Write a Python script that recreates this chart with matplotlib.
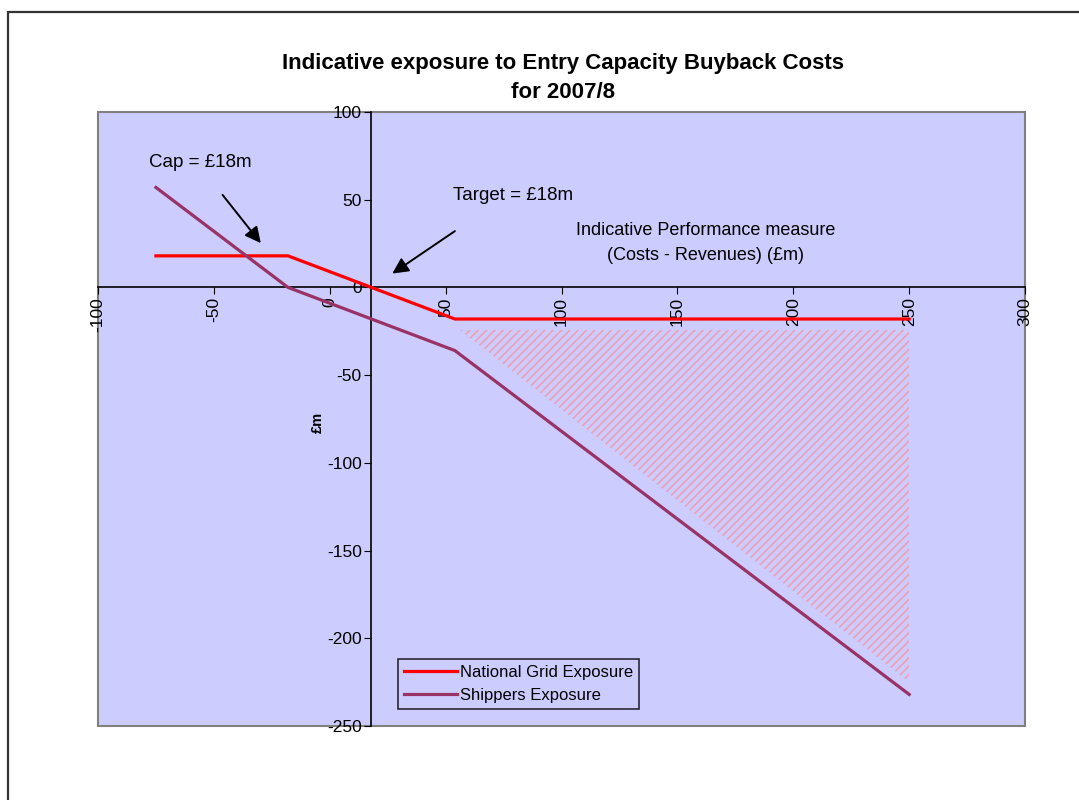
import matplotlib
matplotlib.use("Agg")
import matplotlib.pyplot as plt
from matplotlib.patches import Rectangle

plt.rcParams['font.family'] = ['Liberation Sans', 'DejaVu Sans']
plt.rcParams['hatch.linewidth'] = 1.25
plt.rcParams['axes.unicode_minus'] = False

# Performance measure (Costs - Revenues) in £m and the resulting exposures
perf_x = [-75, -18, 54, 250]
ng_exposure = [18, 18, -18, -18]
shippers_exposure = [57, 0, -36, -232]

# shaded triangle between the two exposures
hatch_x = [56, 250, 250]
hatch_y = [-24, -24, -225]

x_ticks = [-100, -50, 0, 50, 100, 150, 200, 250, 300]
y_ticks = [100, 50, 0, -50, -100, -150, -200, -250]


def main():
    fig = plt.figure(figsize=(10.79, 8.0), dpi=100)
    ax = fig.add_axes([0.0908, 0.0925, 0.8592, 0.7675])
    ax.set_facecolor('#ccccff')

    # outer chart border (runs off the right and bottom of the picture)
    fig.patches.append(Rectangle((8 / 1079, -0.05), 1.1, 1 - 12 / 800 + 0.05,
                                 transform=fig.transFigure, fill=False,
                                 edgecolor='#333333', linewidth=1.6))

    ax.fill(hatch_x, hatch_y, facecolor='none', edgecolor='#eba2b9',
            hatch='////', linewidth=0, zorder=1)
    ax.plot(perf_x, ng_exposure, color='#ff0000', linewidth=2.3,
            label='National Grid Exposure', zorder=3)
    ax.plot(perf_x, shippers_exposure, color='#993366', linewidth=2.3,
            label='Shippers Exposure', zorder=3)

    ax.set_xlim(-100, 300)
    ax.set_ylim(-250, 100)
    ax.set_xticks(x_ticks)
    ax.set_yticks(y_ticks)
    ax.tick_params(axis='x', labelrotation=90, labelsize=12.5, length=5,
                   direction='out', pad=2)
    ax.tick_params(axis='y', labelsize=12.5, length=5, direction='out', pad=2)

    # axes cross at the target
    ax.spines['left'].set_position(('data', 18))
    ax.spines['bottom'].set_position(('data', 0))
    for s in ['top', 'right']:
        ax.spines[s].set_visible(False)
    ax.spines['left'].set_linewidth(1.2)
    ax.spines['bottom'].set_linewidth(1.2)

    # plot area border
    ax.add_patch(Rectangle((0, 0), 1, 1, transform=ax.transAxes, fill=False,
                           edgecolor='#808080', linewidth=1.5, clip_on=False,
                           zorder=0.5))

    fig.text(0.522, 0.921, 'Indicative exposure to Entry Capacity Buyback Costs',
             ha='center', va='center', fontsize=16, fontweight='bold')
    fig.text(0.522, 0.884, 'for 2007/8', ha='center', va='center',
             fontsize=16, fontweight='bold')

    ax.text(-78, 71, 'Cap = £18m', fontsize=13.5, va='center', ha='left')
    ax.annotate('', xy=(-29, 24), xytext=(-47, 54),
                arrowprops=dict(arrowstyle='-|>', color='black', lw=1.4,
                                mutation_scale=24))
    ax.text(53, 52.5, 'Target = £18m', fontsize=13.5, va='center', ha='left')
    ax.annotate('', xy=(26, 7), xytext=(55, 33),
                arrowprops=dict(arrowstyle='-|>', color='black', lw=1.4,
                                mutation_scale=24))

    ax.text(162, 32.5, 'Indicative Performance measure', fontsize=13,
            ha='center', va='center')
    ax.text(162, 18, '(Costs - Revenues) (£m)', fontsize=13,
            ha='center', va='center')
    ax.text(-5, -77, '£m', fontsize=10.5, fontweight='bold', rotation=90,
            ha='center', va='center')

    leg = ax.legend(loc='lower left', bbox_to_anchor=(0.3236, 0.0277),
                    borderaxespad=0, fontsize=12, frameon=True, fancybox=False,
                    handlelength=3.2, handletextpad=0.15, labelspacing=0.5,
                    borderpad=0.35)
    leg.get_frame().set_edgecolor('black')
    leg.get_frame().set_facecolor('#ccccff')
    leg.get_frame().set_linewidth(1.2)

    fig.savefig('out.png', dpi=100)


if __name__ == "__main__":
    main()
